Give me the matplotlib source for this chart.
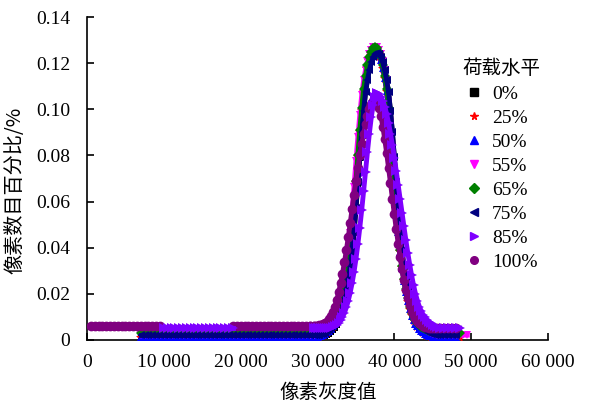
import numpy as np
import matplotlib.pyplot as plt
from matplotlib.lines import Line2D
from matplotlib.ticker import FuncFormatter

plt.rcParams['font.family'] = ['Liberation Serif', 'DejaVu Serif']
cjk = ['Noto Sans CJK SC', 'DejaVu Sans']

# gray levels across the peak, 29500..45500 every 250
gray_peak = np.arange(29500, 45501, 250)

levels = ['0%', '25%', '50%', '55%', '65%', '75%', '85%', '100%']

pct_0 = [.0010, .0010, .0011, .0012, .0013, .0015, .0018, .0022, .0028, .0035, .0044, .0054, .0066, .0081,
         .0100, .0128, .0164, .0205, .0252, .0308, .0379, .0464, .0565, .0678, .0790, .0898, .0991, .1074,
         .1128, .1172, .1206, .1230, .1244, .1248, .1244, .1230, .1206, .1172, .1128, .1074, .0991, .0898,
         .0790, .0678, .0565, .0464, .0379, .0308, .0252, .0205, .0164, .0128, .0100, .0081, .0066, .0054,
         .0044, .0035, .0028, .0022, .0018, .0015, .0013, .0012, .0011]
pct_25 = [.0010, .0011, .0012, .0013, .0016, .0019, .0024, .0030, .0037, .0046, .0056, .0068, .0083, .0102,
          .0130, .0166, .0207, .0254, .0310, .0381, .0466, .0567, .0680, .0792, .0900, .0993, .1076, .1130,
          .1174, .1208, .1232, .1246, .1250, .1246, .1232, .1208, .1174, .1130, .1076, .0993, .0900, .0792,
          .0680, .0567, .0466, .0381, .0310, .0254, .0207, .0166, .0130, .0102, .0083, .0068, .0056, .0046,
          .0037, .0030, .0024, .0019, .0016, .0013, .0012, .0011, .0010]
pct_50 = [.0012, .0013, .0014, .0016, .0019, .0022, .0027, .0033, .0040, .0049, .0059, .0071, .0086, .0105,
          .0133, .0169, .0210, .0256, .0312, .0383, .0468, .0568, .0681, .0793, .0902, .0996, .1080, .1134,
          .1178, .1212, .1236, .1250, .1255, .1250, .1236, .1212, .1178, .1134, .1080, .0996, .0902, .0793,
          .0681, .0568, .0468, .0383, .0312, .0256, .0210, .0169, .0133, .0105, .0086, .0071, .0059, .0049,
          .0040, .0033, .0027, .0022, .0019, .0016, .0014, .0013, .0012]
pct_55 = [.0023, .0025, .0028, .0031, .0035, .0040, .0046, .0053, .0062, .0072, .0084, .0098, .0118, .0142,
          .0175, .0212, .0258, .0312, .0380, .0462, .0560, .0665, .0775, .0880, .0975, .1060, .1125, .1172,
          .1210, .1238, .1257, .1268, .1272, .1268, .1257, .1238, .1210, .1172, .1125, .1060, .0975, .0880,
          .0775, .0665, .0560, .0462, .0380, .0312, .0258, .0212, .0175, .0142, .0118, .0098, .0084, .0072,
          .0062, .0053, .0046, .0040, .0035, .0031, .0028, .0025, .0023]
pct_65 = [.0032, .0033, .0035, .0037, .0040, .0043, .0047, .0052, .0058, .0066, .0075, .0086, .0100, .0118,
          .0145, .0180, .0220, .0265, .0320, .0390, .0475, .0575, .0688, .0800, .0910, .1005, .1090, .1145,
          .1190, .1225, .1250, .1265, .1270, .1265, .1250, .1225, .1190, .1145, .1090, .1005, .0910, .0800,
          .0688, .0575, .0475, .0390, .0320, .0265, .0220, .0180, .0145, .0118, .0100, .0086, .0075, .0066,
          .0058, .0052, .0047, .0043, .0040, .0037, .0035, .0033, .0032]
pct_75 = [.0020, .0020, .0021, .0023, .0025, .0028, .0032, .0037, .0043, .0050, .0059, .0069, .0081, .0096,
          .0115, .0143, .0178, .0218, .0264, .0320, .0390, .0474, .0573, .0684, .0794, .0900, .0992, .1074,
          .1127, .1170, .1203, .1226, .1240, .1245, .1240, .1226, .1203, .1170, .1127, .1074, .0992, .0900,
          .0794, .0684, .0573, .0474, .0390, .0320, .0264, .0218, .0178, .0143, .0115, .0096, .0081, .0069,
          .0059, .0050, .0043, .0037, .0032, .0028, .0025, .0023, .0021]
pct_85 = [.0050, .0050, .0050, .0050, .0050, .0050, .0050, .0051, .0052, .0053, .0056, .0060, .0066, .0074,
          .0085, .0099, .0117, .0141, .0170, .0205, .0246, .0294, .0350, .0414, .0485, .0562, .0645, .0730,
          .0815, .0895, .0965, .1020, .1055, .1070, .1066, .1055, .1037, .1012, .0980, .0940, .0895, .0845,
          .0790, .0732, .0672, .0612, .0552, .0492, .0433, .0378, .0327, .0280, .0238, .0201, .0171, .0145,
          .0126, .0110, .0098, .0088, .0080, .0073, .0067, .0062, .0058]
pct_100 = [.0060, .0061, .0062, .0063, .0065, .0068, .0072, .0079, .0089, .0102, .0120, .0143, .0172, .0206,
           .0245, .0288, .0336, .0388, .0445, .0505, .0568, .0630, .0690, .0745, .0800, .0850, .0895, .0935,
           .0970, .1000, .1022, .1035, .1040, .1030, .1005, .0970, .0925, .0870, .0810, .0745, .0680, .0612,
           .0545, .0480, .0418, .0360, .0307, .0260, .0218, .0182, .0152, .0127, .0108, .0094, .0083, .0075,
           .0068, .0062, .0058, .0055, .0053, .0052, .0051, .0050, .0050]

# flat parts outside the peak
left_spans = [[(7000, 29000)], [(7000, 29000)], [(7000, 29000)], [(7000, 29000)],
              [(7000, 29000)], [(7000, 29000)], [(10000, 19000)], [(500, 9500), (19000, 29000)]]
left_level = [0.0010, 0.0010, 0.0012, 0.0021, 0.0031, 0.0020, 0.0050, 0.0060]
right_level = [0.0010, 0.0010, 0.0012, 0.0021, 0.0031, 0.0020, 0.0052, 0.0050]
right_end = [48000, 48500, 48000, 49500, 48500, 48000, 48500, 48000]

peaks = [pct_0, pct_25, pct_50, pct_55, pct_65, pct_75, pct_85, pct_100]
colors = ['#000000', '#FF0000', '#0000FF', '#FF00FF', '#008000', '#000080', '#7F00FF', '#800080']
markers = ['s', '*', '^', 'v', 'D', '<', '>', 'o']
msizes = [5, 7.5, 6, 6, 5, 6, 6.5, 7]
zorders = [2, 3, 4, 5, 6, 7, 9, 8]

fig = plt.figure(figsize=(5.89, 4.05), dpi=100)
ax = fig.add_axes([87 / 589, 1 - 340 / 405, 461 / 589, 323 / 405])

for i in range(len(levels)):
    style = dict(color=colors[i], lw=3.5, marker=markers[i], ms=msizes[i], mew=0, zorder=zorders[i])
    for a, b in left_spans[i]:
        xl = np.arange(a, b + 1, 500)
        ax.plot(xl, np.full(len(xl), left_level[i]), **style)
    xr = np.arange(46000, right_end[i] + 1, 500)
    xs = np.concatenate([gray_peak, xr])
    ys = np.concatenate([peaks[i], np.full(len(xr), right_level[i])])
    ax.plot(xs, ys, **style)
    # join the left flat part to the peak
    if left_spans[i][-1][1] == 29000:
        ax.plot([29000, 29500], [left_level[i], peaks[i][0]], **style)

ax.set_xlim(0, 60000)
ax.set_ylim(0, 0.14)
ax.set_xticks(np.arange(0, 60001, 10000))
ax.set_yticks(np.arange(0, 0.1401, 0.02))
ax.xaxis.set_major_formatter(FuncFormatter(lambda v, p: '{:,}'.format(int(v)).replace(',', ' ')))
ax.yaxis.set_major_formatter(FuncFormatter(lambda v, p: '0' if abs(v) < 1e-9 else '%.2f' % v))
ax.tick_params(direction='in', length=5, width=1.2, labelsize=14)
ax.tick_params(axis='y', pad=12)
ax.tick_params(axis='x', pad=10)
for sp in ['top', 'right']:
    ax.spines[sp].set_visible(False)
for sp in ['left', 'bottom']:
    ax.spines[sp].set_linewidth(1.2)

ax.set_xlabel('像素灰度值', fontsize=14, family=cjk)
ax.set_ylabel('像素数目百分比/%', fontsize=14.5, family=cjk)
ax.xaxis.set_label_coords(0.523, -0.13)
ax.yaxis.set_label_coords(-0.134, 0.464)

handles = [Line2D([], [], ls='none', marker=markers[i], color=colors[i], ms=5.5)
           for i in range(len(levels))]
leg = ax.legend(handles, levels, title='荷载水平', loc='upper left',
                bbox_to_anchor=(462 / 589, 1 - 58 / 405), bbox_transform=fig.transFigure,
                frameon=False, fontsize=14, handlelength=1.0, handletextpad=0.4,
                labelspacing=0.33, borderpad=0, borderaxespad=0)
leg.get_title().set_fontfamily(cjk)
leg.get_title().set_fontsize(14)

fig.savefig('out.png', dpi=100)
